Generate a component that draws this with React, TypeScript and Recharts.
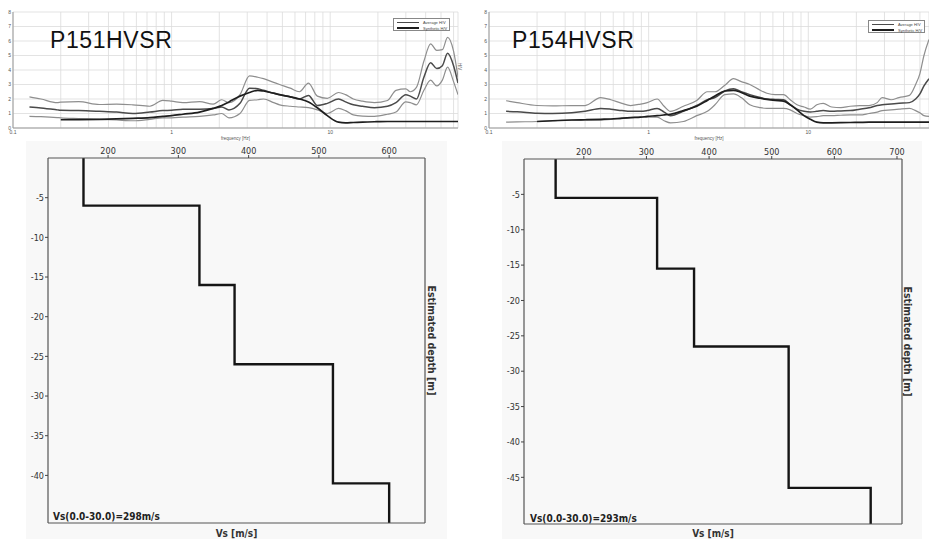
import { LineChart, Line, XAxis, YAxis, CartesianGrid } from "recharts";

// ---- HVSR curves, P151 ----
const P151_FREQ = [0.127, 0.15, 0.19, 0.2, 0.26, 0.35, 0.45, 0.57, 0.73, 0.88, 1.0, 1.18, 1.5, 1.83, 2.07, 2.3, 2.7, 3.1, 3.5, 3.8, 4.4, 4.8, 5.6, 6.4, 7.3, 8.3, 9.6, 11.3, 12.5, 14, 16, 19, 23, 26, 30, 32, 35, 39, 43, 47, 51, 55, 60, 64];
const P151_UPPER = [2.15, 2.0, 1.75, 1.78, 1.82, 1.62, 1.65, 1.6, 1.5, 1.9, 1.85, 1.75, 1.82, 1.65, 1.95, 1.75, 2.3, 3.6, 3.5, 3.4, 3.15, 3.0, 2.75, 2.5, 3.1, 2.2, 2.05, 2.45, 2.3, 2.0, 1.85, 1.75, 1.9, 2.6, 2.7, 2.5, 2.8, 4.6, 5.8, 5.35, 5.4, 6.25, 5.3, 3.5];
const P151_AVG = [1.45, 1.38, 1.25, 1.22, 1.2, 1.15, 1.1, 1.0, 1.1, 1.2, 1.22, 1.3, 1.3, 1.35, 1.45, 1.25, 1.7, 2.75, 2.7, 2.6, 2.4, 2.3, 2.15, 2.0, 2.25, 1.55, 1.7, 2.0, 1.8, 1.6, 1.5, 1.4, 1.5, 1.75, 2.3, 2.2, 2.0, 3.5, 4.5, 4.1, 4.3, 5.15, 4.3, 3.1];
const P151_LOWER = [0.8, 0.78, 0.72, 0.7, 0.65, 0.6, 0.55, 0.5, 0.6, 0.7, 0.7, 0.75, 0.8, 0.9, 1.0, 0.7, 1.0, 1.9, 1.95, 2.0, 1.75, 1.6, 1.5, 1.45, 1.4, 1.25, 1.0, 1.35, 1.2, 0.9, 0.82, 0.8, 0.95, 1.1, 1.8, 1.75, 1.6, 2.6, 3.3, 2.9, 3.3, 4.2, 3.2, 2.3];
const P151_SYN = [null, null, null, 0.57, 0.58, 0.6, 0.63, 0.67, 0.72, 0.8, 0.85, 0.95, 1.1, 1.35, 1.55, 1.8, 2.2, 2.45, 2.6, 2.55, 2.4, 2.3, 2.15, 2.0, 1.8, 1.4, 0.85, 0.4, 0.36, 0.38, 0.4, 0.43, 0.45, 0.45, 0.45, 0.45, 0.45, 0.45, 0.45, 0.45, 0.45, 0.45, 0.45, 0.45];

// ---- HVSR curves, P154 ----
const P154_FREQ = [0.128, 0.15, 0.2, 0.25, 0.33, 0.4, 0.5, 0.58, 0.68, 0.77, 0.89, 0.98, 1.13, 1.25, 1.37, 1.65, 2.0, 2.33, 2.6, 3.0, 3.4, 3.8, 4.3, 5.0, 5.5, 6.2, 7.0, 7.7, 8.5, 9.4, 10.3, 11.3, 12.4, 14, 16, 18.3, 21, 24, 27, 29, 33, 37, 43, 47, 50, 53, 57];
const P154_UPPER = [1.88, 1.75, 1.55, 1.52, 1.55, 1.55, 2.1, 1.95, 1.7, 1.55, 1.65, 1.75, 2.0, 1.5, 1.15, 1.5, 1.9, 2.5, 2.5, 2.95, 3.4, 3.2, 3.0, 2.6, 2.4, 2.3, 2.3, 1.95, 1.6, 1.45, 1.3, 1.6, 1.7, 1.45, 1.4, 1.5, 1.55, 1.55, 1.75, 2.1, 1.95, 2.1, 2.25, 3.0, 3.75, 5.0, 6.1];
const P154_AVG = [1.15, 1.12, 1.02, 1.0, 1.05, 1.15, 1.35, 1.3, 1.2, 1.15, 1.15, 1.2, 1.35, 1.1, 0.85, 1.15, 1.55, 1.95, 2.1, 2.55, 2.7, 2.5, 2.3, 2.1, 2.0, 1.97, 1.95, 1.6, 1.3, 1.15, 1.1, 1.15, 1.2, 1.15, 1.18, 1.2, 1.3, 1.4, 1.55, 1.6, 1.65, 1.7, 1.75, 2.0, 2.35, 2.9, 3.4];
const P154_LOWER = [0.4, 0.42, 0.45, 0.5, 0.55, 0.55, 0.55, 0.6, 0.65, 0.72, 0.75, 0.75, 0.75, 0.5, 0.35, 0.45, 0.85, 1.15, 1.6, 2.3, 2.35, 2.1, 1.6, 1.4, 1.35, 1.35, 1.35, 1.25, 1.0, 0.85, 0.75, 0.78, 0.85, 0.85, 0.88, 0.9, 0.9, 1.0, 1.1, 1.2, 1.25, 1.3, 1.35, 1.2, 1.05, 0.85, 0.8];
const P154_SYN = [null, null, 0.45, 0.5, 0.55, 0.57, 0.6, 0.62, 0.68, 0.72, 0.75, 0.8, 0.85, 0.9, 0.95, 1.2, 1.5, 1.9, 2.2, 2.55, 2.6, 2.45, 2.2, 2.05, 1.97, 1.9, 1.85, 1.6, 1.25, 0.85, 0.6, 0.4, 0.35, 0.36, 0.37, 0.38, 0.39, 0.4, 0.4, 0.4, 0.4, 0.4, 0.4, 0.4, 0.4, 0.4, 0.4];

const HV_TICKS = [0, 1, 2, 3, 4, 5, 6, 7, 8];
const FREQ_GRID = [0.1, 0.2, 0.3, 0.4, 0.5, 0.6, 0.7, 0.8, 0.9, 1, 2, 3, 4, 5, 6, 7, 8, 9, 10, 20, 30, 40, 50, 60];
const FREQ_LABELS = [0.1, 1, 10];

// ---- Vs profiles ----
const P151_VS = [165, 330, 380, 520, 600];
const P151_LAYER_BASE = [6, 16, 26, 41];
const P151_VS_TICKS = [200, 300, 400, 500, 600];
const P151_DEPTH_TICKS = [-5, -10, -15, -20, -25, -30, -35, -40];

const P154_VS = [155, 317, 376, 527, 658];
const P154_LAYER_BASE = [5.5, 15.5, 26.5, 46.5];
const P154_VS_TICKS = [200, 300, 400, 500, 600, 700];
const P154_DEPTH_TICKS = [-5, -10, -15, -20, -25, -30, -35, -40, -45];

const FONT = "'Liberation Sans', Arial, sans-serif";
const NARROW = "'Liberation Sans Narrow', 'DejaVu Sans Condensed', 'Liberation Sans', sans-serif";

function hvRows(freq: number[], upper: number[], avg: number[], lower: number[], syn: (number | null)[]) {
  return freq.map((f, i) => ({ f, upper: upper[i], avg: avg[i], lower: lower[i], syn: syn[i] }));
}

function stepRows(vs: number[], bases: number[], bottom: number) {
  const rows: { vs: number; depth: number }[] = [];
  let top = 0;
  vs.forEach((v, i) => {
    const b = i < bases.length ? -bases[i] : bottom;
    rows.push({ vs: v, depth: top }, { vs: v, depth: b });
    top = b;
  });
  return rows;
}

function HvsrChart({ data, maxF, left, ml }: { data: any[]; maxF: number; left: number; ml: number }) {
  const w = left === 0 ? 465 : 464;
  return (
    <div style={{ position: "absolute", left, top: 0 }}>
      <LineChart width={w} height={145} data={data} margin={{ top: 12, right: left === 0 ? 7 : 0, bottom: 5, left: ml }}>
        <CartesianGrid stroke="#dcdcdc" strokeWidth={0.8} />
        <XAxis
          dataKey="f"
          type="number"
          scale="log"
          domain={[0.1, maxF]}
          allowDataOverflow
          ticks={FREQ_GRID}
          interval={0}
          tickFormatter={(v: number) => (FREQ_LABELS.includes(v) ? String(v) : "")}
          tick={{ fontSize: 5, fill: "#555" }}
          tickLine={false}
          tickSize={1}
          tickMargin={1}
          axisLine={{ stroke: "#999" }}
          height={12}
          label={{ value: "frequency [Hz]", position: "insideBottom", offset: 0, fontSize: 4.5, fill: "#555" }}
        />
        <XAxis xAxisId="top" orientation="top" type="number" scale="log" domain={[0.1, maxF]} allowDataOverflow height={0} tick={false} tickLine={false} axisLine={{ stroke: "#999" }} />
        <YAxis
          type="number"
          domain={[0, 8]}
          ticks={HV_TICKS}
          interval={0}
          width={10}
          tick={{ fontSize: 5, fill: "#555" }}
          tickLine={false}
          tickSize={1}
          tickMargin={1}
          axisLine={{ stroke: "#999" }}
        />
        {left === 0 && (
          <YAxis yAxisId="r" orientation="right" type="number" domain={[0, 8]} width={0} tick={false} tickLine={false} axisLine={{ stroke: "#999" }} />
        )}
        <Line dataKey="upper" type="monotone" stroke="#8e8e8e" strokeWidth={1.2} dot={false} isAnimationActive={false} />
        <Line dataKey="lower" type="monotone" stroke="#8e8e8e" strokeWidth={1.2} dot={false} isAnimationActive={false} />
        <Line dataKey="avg" type="monotone" stroke="#4a4a4a" strokeWidth={1.5} dot={false} isAnimationActive={false} />
        <Line dataKey="syn" type="monotone" stroke="#1e1e1e" strokeWidth={1.7} dot={false} connectNulls={false} isAnimationActive={false} />
      </LineChart>
    </div>
  );
}

function HvLegend({ left, top, width }: { left: number; top: number; width: number }) {
  const row = (label: string, sw: number, color: string) => (
    <div style={{ display: "flex", alignItems: "center", height: 6 }}>
      <div style={{ width: 22, height: sw, background: color, marginLeft: 3, marginRight: 4 }} />
      <div style={{ fontSize: 4, color: "#444", whiteSpace: "nowrap" }}>{label}</div>
    </div>
  );
  return (
    <div style={{ position: "absolute", left, top, width, height: 13, border: "1px solid #888", background: "#fff", paddingTop: 0, boxSizing: "border-box", fontFamily: FONT }}>
      {row("Average H/V", 1, "#4a4a4a")}
      {row("Synthetic H/V", 1.5, "#1e1e1e")}
    </div>
  );
}

function VsChart({
  data, domainX, domainY, vsTicks, depthTicks, left, ml, mr, rw, topH, botH,
}: {
  data: any[]; domainX: number[]; domainY: number[]; vsTicks: number[]; depthTicks: number[];
  left: number; ml: number; mr: number; rw: number; topH: number; botH: number;
}) {
  const w = left === 0 ? 465 : 464;
  return (
    <div style={{ position: "absolute", left, top: 140 }}>
      <LineChart width={w} height={399} data={data} margin={{ top: 0, right: mr, bottom: 0, left: ml }}>
        <XAxis
          dataKey="vs"
          type="number"
          orientation="top"
          domain={domainX}
          ticks={vsTicks}
          interval={0}
          allowDataOverflow
          height={topH}
          tick={{ fontSize: 9, fill: "#333", fontFamily: NARROW }}
          tickSize={3}
          tickMargin={1}
          tickLine={{ stroke: "#444" }}
          axisLine={{ stroke: "#555", strokeWidth: 1.2 }}
        />
        <XAxis
          xAxisId="b"
          type="number"
          domain={domainX}
          height={botH}
          tick={false}
          tickLine={false}
          axisLine={{ stroke: "#555", strokeWidth: 1.2 }}
          label={{ value: "Vs [m/s]", position: "insideBottom", offset: 2, fontSize: 10, fill: "#333", fontWeight: "bold", fontFamily: NARROW }}
        />
        <YAxis
          type="number"
          domain={domainY}
          ticks={depthTicks}
          interval={0}
          allowDataOverflow
          width={30}
          tick={{ fontSize: 9, fill: "#333", fontFamily: NARROW }}
          tickSize={3}
          tickMargin={1}
          tickLine={{ stroke: "#444" }}
          axisLine={{ stroke: "#555", strokeWidth: 1.2 }}
        />
        <YAxis
          yAxisId="r"
          orientation="right"
          type="number"
          domain={domainY}
          width={rw}
          tick={false}
          tickLine={false}
          axisLine={{ stroke: "#555", strokeWidth: 1.2 }}
          label={{ value: "Estimated depth [m]", angle: 90, position: "center", fontSize: 10.5, fill: "#333", fontWeight: "bold", fontFamily: NARROW }}
        />
        <Line dataKey="depth" type="linear" stroke="#151515" strokeWidth={2.4} dot={false} isAnimationActive={false} />
      </LineChart>
    </div>
  );
}

export default function App() {
  const p151 = hvRows(P151_FREQ, P151_UPPER, P151_AVG, P151_LOWER, P151_SYN);
  const p154 = hvRows(P154_FREQ, P154_UPPER, P154_AVG, P154_LOWER, P154_SYN);
  const p151Y = [-46, 0];
  const p154Y = [-51.6, 0];
  const s151 = stepRows(P151_VS, P151_LAYER_BASE, p151Y[0]);
  const s154 = stepRows(P154_VS, P154_LAYER_BASE, p154Y[0]);

  return (
    <div style={{ position: "absolute", left: 0, top: 0, width: 929, height: 539, background: "#fff", overflow: "hidden", fontFamily: FONT }}>
      <div style={{ position: "absolute", left: 26, top: 141, width: 421, height: 398, background: "#f8f8f8" }} />
      <div style={{ position: "absolute", left: 502, top: 141, width: 420, height: 398, background: "#f8f8f8" }} />

      <HvsrChart data={p151} maxF={64} left={0} ml={3} />
      <HvsrChart data={p154} maxF={57} left={465} ml={14} />

      <div style={{ position: "absolute", left: 50, top: 27, fontSize: 23, color: "#111", letterSpacing: 0.6 }}>P151HVSR</div>
      <div style={{ position: "absolute", left: 512, top: 27, fontSize: 23, color: "#111", letterSpacing: 0.6 }}>P154HVSR</div>
      <HvLegend left={393} top={18} width={57} />
      <HvLegend left={868} top={20} width={57} />
      <div style={{ position: "absolute", left: 456, top: 64, fontSize: 4.5, color: "#555", transform: "rotate(90deg)" }}>H/V</div>

      <VsChart data={s151} domainX={[114.5, 651]} domainY={p151Y} vsTicks={P151_VS_TICKS} depthTicks={P151_DEPTH_TICKS} left={0} ml={18} mr={26} rw={14} topH={18} botH={16} />
      <VsChart data={s154} domainX={[104.5, 708]} domainY={p154Y} vsTicks={P154_VS_TICKS} depthTicks={P154_DEPTH_TICKS} left={465} ml={29} mr={15} rw={12} topH={19} botH={15} />

      <div style={{ position: "absolute", left: 53, top: 511, fontSize: 10, fontWeight: "bold", color: "#222", fontFamily: NARROW }}>Vs(0.0-30.0)=298m/s</div>
      <div style={{ position: "absolute", left: 530, top: 513, fontSize: 10, fontWeight: "bold", color: "#222", fontFamily: NARROW }}>Vs(0.0-30.0)=293m/s</div>
    </div>
  );
}
